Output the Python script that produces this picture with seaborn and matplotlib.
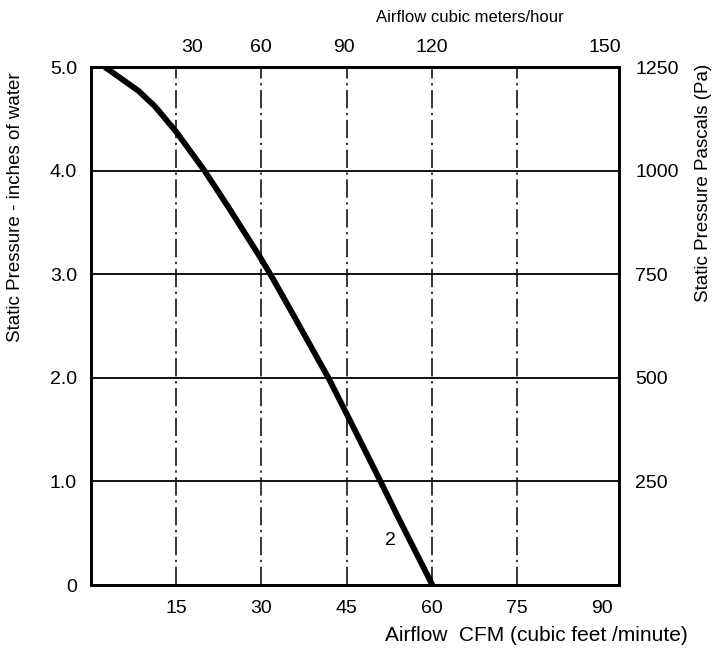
import matplotlib
matplotlib.use("Agg")
import matplotlib.pyplot as plt
import seaborn as sns
import pandas as pd

# Fan curve (CFM vs inches of water)
cfm = [2.5, 8.4, 11.3, 15.1, 20.0, 24.3, 29.5, 31.8, 35.5, 41.9, 45.4, 50.7, 54.2, 60.1]
pressure_in = [5.0, 4.77, 4.62, 4.37, 4.0, 3.64, 3.19, 2.98, 2.62, 1.99, 1.61, 1.03, 0.64, 0.0]

cfm_ticks = [15, 30, 45, 60, 75, 90]
grid_cfm = [15, 30, 45, 60, 75]
in_ticks = [0, 1, 2, 3, 4, 5]
in_labels = ['0', '1.0', '2.0', '3.0', '4.0', '5.0']
grid_in = [1, 2, 3, 4]
# top axis labels (m3/h) sit where the original drawing placed them
m3h_pos = [17.8, 30.0, 44.6, 60.0, 90.5]
m3h_labels = ['30', '60', '90', '120', '150']
pa_pos = [1, 2, 3, 4, 5]
pa_labels = ['250', '500', '750', '1000', '1250']

TICK_FONT = 14
YLABEL_FONT = 13.5

sns.set_style("white", {'text.color': 'black', 'axes.labelcolor': 'black',
                        'xtick.color': 'black', 'ytick.color': 'black'})
plt.rcParams['font.family'] = ['Liberation Sans', 'DejaVu Sans']

df = pd.DataFrame({'cfm': cfm, 'pressure': pressure_in})

fig = plt.figure(figsize=(7.15, 6.49), dpi=100)
ax = fig.add_axes([0.127, 0.0986, 0.7385, 0.798])

for g in grid_in:
    ax.axhline(g, color='black', lw=1.3, zorder=1)
for g in grid_cfm:
    ax.axvline(g, color='black', lw=1.1, ls=(0, (12, 3, 1.5, 3)), zorder=1)

sns.lineplot(data=df, x='cfm', y='pressure', ax=ax, color='black', lw=4.2,
             zorder=3, solid_joinstyle='round', solid_capstyle='round')

ax.set_xlim(0, 92.9)
ax.set_ylim(0, 5.0)
ax.set_xticks(cfm_ticks)
ax.set_xticklabels([str(t) for t in cfm_ticks])
ax.set_yticks(in_ticks)
ax.set_yticklabels(in_labels)
ax.tick_params(axis='x', length=0, pad=11, labelsize=TICK_FONT, labelcolor='black')
ax.tick_params(axis='y', length=0, pad=10, labelsize=TICK_FONT, labelcolor='black')

for s in ax.spines.values():
    s.set_visible(True)
    s.set_color('black')
    s.set_linewidth(1.8)

ax.set_xlabel('Airflow  CFM (cubic feet /minute)', fontsize=15, va='center', color='black')
ax.xaxis.set_label_coords(0.843, -0.098)
ax.set_ylabel('Static Pressure - inches of water', fontsize=YLABEL_FONT, va='center', color='black')
ax.yaxis.set_label_coords(-0.142, 0.73)

# top axis: cubic meters per hour
ax_top = ax.twiny()
ax_top.set_xlim(ax.get_xlim())
ax_top.set_xticks(m3h_pos)
ax_top.set_xticklabels(m3h_labels)
ax_top.tick_params(axis='x', length=0, pad=8, labelsize=TICK_FONT, labelcolor='black')
ax_top.set_xlabel('Airflow cubic meters/hour', fontsize=12, va='center', color='black')
ax_top.xaxis.set_label_coords(0.718, 1.095)

# right axis: pascals
ax_right = ax.twinx()
ax_right.set_ylim(ax.get_ylim())
ax_right.set_yticks(pa_pos)
ax_right.set_yticklabels(pa_labels)
ax_right.tick_params(axis='y', length=0, pad=12, labelsize=TICK_FONT, labelcolor='black')
ax_right.set_ylabel('Static Pressure Pascals (Pa)', fontsize=YLABEL_FONT, va='center', color='black')
ax_right.yaxis.set_label_coords(1.161, 0.776)

for a in (ax_top, ax_right):
    for s in a.spines.values():
        s.set_linewidth(1.8)
        s.set_color('black')

ax.text(52.7, 0.43, '2', fontsize=TICK_FONT, ha='center', va='center', color='black')

fig.savefig('out.png', dpi=100)
